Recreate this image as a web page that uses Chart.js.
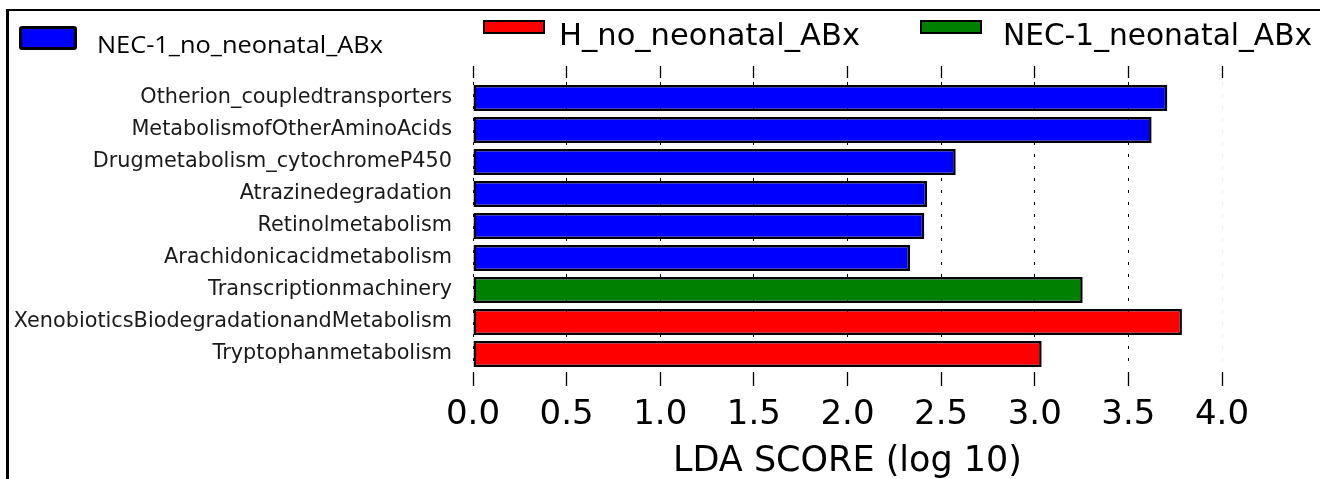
<!DOCTYPE html>
<html><head><meta charset="utf-8">
<script src="https://cdn.jsdelivr.net/npm/chart.js@4.4.1/dist/chart.umd.min.js"></script>
<style>
html,body{margin:0;padding:0;background:#fff;}
#wrap{position:relative;width:1320px;height:479px;overflow:hidden;background:#fff;}
#frame{position:absolute;left:6px;top:9px;width:1330px;height:490px;border-left:3px solid #000;border-top:2px solid #000;box-sizing:border-box;}
#c{position:absolute;left:0;top:0;}
.box{position:absolute;box-sizing:border-box;border:2px solid #000;}
.lt{position:absolute;white-space:nowrap;line-height:1;transform-origin:0 0;color:#000;}
</style></head>
<body><div id="wrap">
<div id="frame"></div>
<canvas id="c" width="1320" height="479" style="width:1320px;height:479px"></canvas>
</div>
<script>
// ---- data ----
const features = [
  "Otherion_coupledtransporters",
  "MetabolismofOtherAminoAcids",
  "Drugmetabolism_cytochromeP450",
  "Atrazinedegradation",
  "Retinolmetabolism",
  "Arachidonicacidmetabolism",
  "Transcriptionmachinery",
  "XenobioticsBiodegradationandMetabolism",
  "Tryptophanmetabolism"
];
const ldaScores = [3.708, 3.624, 2.578, 2.425, 2.41, 2.334, 3.256, 3.786, 3.037];
const featureClass = [
  "NEC-1_no_neonatal_ABx","NEC-1_no_neonatal_ABx","NEC-1_no_neonatal_ABx",
  "NEC-1_no_neonatal_ABx","NEC-1_no_neonatal_ABx","NEC-1_no_neonatal_ABx",
  "NEC-1_neonatal_ABx","H_no_neonatal_ABx","H_no_neonatal_ABx"
];
const classNames = ["NEC-1_no_neonatal_ABx", "H_no_neonatal_ABx", "NEC-1_neonatal_ABx"];
const classColors = ["#0000ff", "#ff0000", "#008000"];
const xTickValues = [0.0, 0.5, 1.0, 1.5, 2.0, 2.5, 3.0, 3.5, 4.0];
const xTitle = "LDA SCORE (log 10)";

// ---- legend (HTML, positioned like the reference) ----
const legendLayout = [
  {box:[19,26,58,24], bw:3, radius:3, text:[97,26.5,286], font:"500 24px 'Open Sans'"},
  {box:[483,20,62,14], bw:2, radius:0, text:[559,16.6,301], font:"30px 'DejaVu Sans'"},
  {box:[920,20,62,14], bw:2, radius:0, text:[1003,16.6,309], font:"30px 'DejaVu Sans'"}
];
const wrap = document.getElementById('wrap');
const mctx = document.createElement('canvas').getContext('2d');
classNames.forEach((name, i) => {
  const L = legendLayout[i];
  const b = document.createElement('div');
  b.className = 'box';
  b.style.cssText = `left:${L.box[0]}px;top:${L.box[1]}px;width:${L.box[2]}px;height:${L.box[3]}px;background:${classColors[i]};border-width:${L.bw}px;border-radius:${L.radius}px`;
  wrap.appendChild(b);
  const t = document.createElement('div');
  t.className = 'lt';
  t.textContent = name;
  mctx.font = L.font;
  const w = mctx.measureText(name).width;
  t.style.cssText = `left:${L.text[0]}px;top:${L.text[1]}px;font:${L.font};transform:scaleX(${(L.text[2]/w).toFixed(4)})`;
  wrap.appendChild(t);
});

// ---- chart ----
const barColors = featureClass.map(c => classColors[classNames.indexOf(c)]);
const setTicks = s => { s.ticks = xTickValues.map(v => ({value: v})); };

new Chart(document.getElementById('c'), {
  type: 'bar',
  data: {
    labels: features,
    datasets: [{
      data: ldaScores,
      backgroundColor: barColors,
      borderColor: '#000',
      borderWidth: 2.5,
      borderSkipped: false,
      barPercentage: 0.81,
      categoryPercentage: 1.0
    }]
  },
  options: {
    indexAxis: 'y',
    responsive: false,
    devicePixelRatio: 1,
    animation: false,
    layout: {padding: {left: 0, right: 98, top: 0, bottom: 0}},
    plugins: {legend: {display: false}, tooltip: {enabled: false}},
    scales: {
      x: {
        type: 'linear', position: 'bottom', min: 0, max: 4, z: 1,
        afterBuildTicks: setTicks,
        afterFit: s => { s.height = 109; },
        border: {display: false, dash: [3, 9]},
        grid: {
          color: c => (c.tick && c.tick.value === 4) ? 'rgba(0,0,0,0.07)' : '#000',
          lineWidth: 1,
          drawTicks: true,
          tickLength: 16,
          tickColor: '#000',
          tickWidth: 1.3,
          tickBorderDash: [0, 2, 14, 100]
        },
        ticks: {
          font: {family: 'DejaVu Sans', size: 34},
          color: '#000', padding: 9, maxRotation: 0, autoSkip: false,
          callback: v => Number(v).toFixed(1)
        },
        title: {
          display: true, text: xTitle, color: '#000',
          font: {family: 'DejaVu Sans', size: 35},
          padding: {top: 0, bottom: -4}
        }
      },
      xTop: {
        type: 'linear', axis: 'x', position: 'top', min: 0, max: 4,
        afterBuildTicks: setTicks,
        afterFit: s => { s.height = 82; },
        border: {display: false},
        grid: {
          drawOnChartArea: false, drawTicks: true, tickLength: 16,
          tickColor: '#000', tickWidth: 1.3, tickBorderDash: [12, 100]
        },
        ticks: {display: false}
      },
      y: {
        type: 'category', offset: true,
        afterFit: s => { s.width = 473; },
        border: {display: false},
        grid: {display: false, drawTicks: false},
        ticks: {
          font: {family: 'DejaVu Sans', size: 20.8},
          color: '#1a1a1a', padding: 21, autoSkip: false
        }
      }
    }
  }
});
</script>
</body></html>
